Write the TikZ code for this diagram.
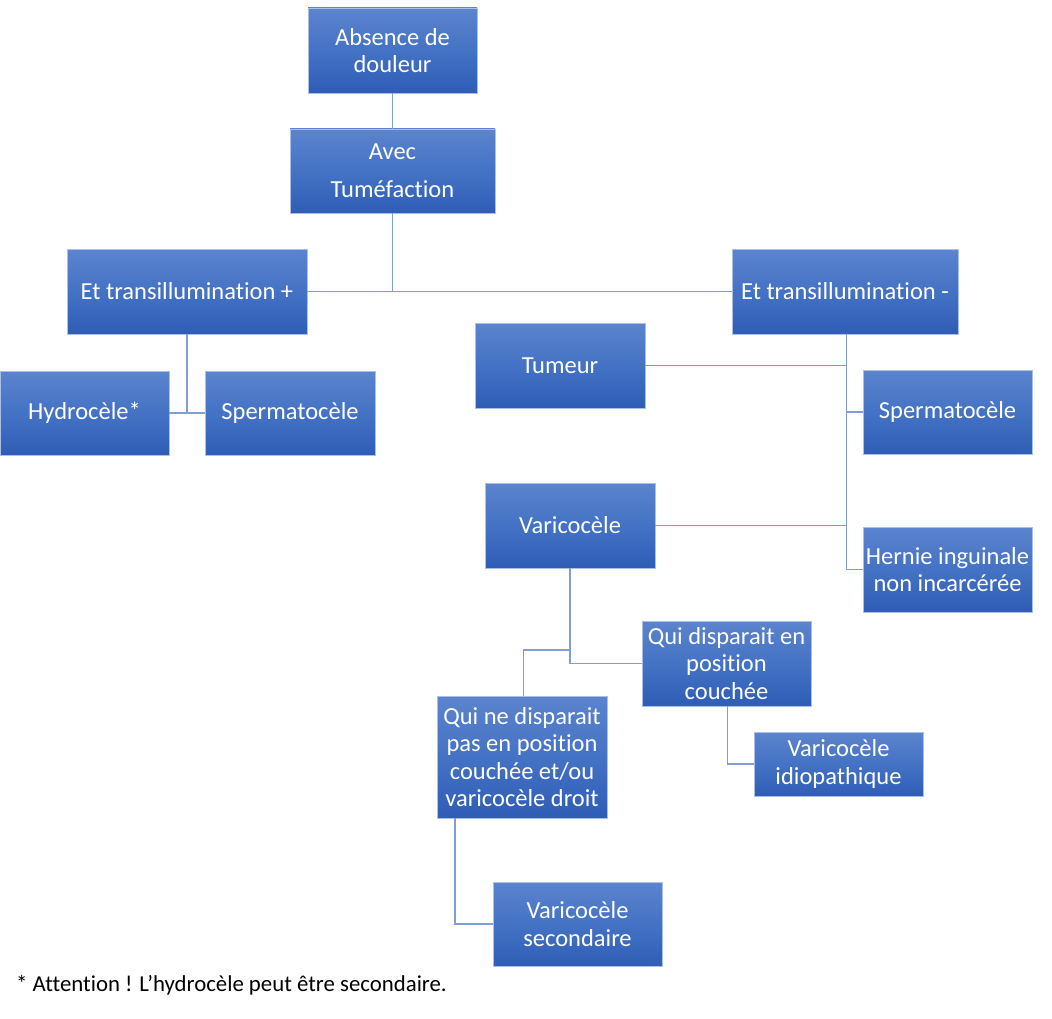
\documentclass[tikz,border=0pt]{standalone}
\usepackage{fontspec}
\setmainfont{Carlito}[Ligatures=NoCommon]
\definecolor{boxtop}{RGB}{92,132,206}
\definecolor{boxmid}{RGB}{68,114,196}
\definecolor{boxbot}{RGB}{47,93,182}
\definecolor{boxline}{RGB}{170,192,230}
\definecolor{conn}{RGB}{128,158,214}
\tikzset{
  box/.style={rectangle, inner sep=0pt, outer sep=0pt, draw=boxline, line width=0.8pt,
    top color=boxtop, bottom color=boxbot, middle color=boxmid,
    text=white, align=center, font=\fontsize{24.5}{27.3}\selectfont},
  conline/.style={draw=conn, line width=1.3pt},
}
\begin{document}
\begin{tikzpicture}[x=1pt,y=-1pt]
\useasboundingbox[fill=white] (0,0) rectangle (1052,1019);
\node[box, minimum width=169pt, minimum height=85pt] (abs) at (392.5,50.5) {Absence de\\douleur};
\node[box, minimum width=205pt, minimum height=84pt] (avec) at (392.5,171) {Avec\\[11pt]Tuméfaction};
\node[box, minimum width=240pt, minimum height=85pt] (etp) at (187,291.5) {Et transillumination +};
\node[box, minimum width=226pt, minimum height=85pt] (etm) at (845,291.5) {Et transillumination -};
\node[box, minimum width=170pt, minimum height=85pt] (tum) at (560,365.5) {Tumeur};
\node[box, minimum width=169pt, minimum height=84pt] (spr) at (947.5,412) {Spermatocèle};
\node[box, minimum width=169pt, minimum height=84pt] (hyd) at (84.5,413) {Hydrocèle*};
\node[box, minimum width=170pt, minimum height=84pt] (spl) at (290,413) {Spermatocèle};
\node[box, minimum width=170pt, minimum height=85pt] (var) at (570,525.5) {Varicocèle};
\node[box, minimum width=169pt, minimum height=85pt] (her) at (947.5,569.5) {Hernie inguinale\\non incarcérée};
\node[box, minimum width=169pt, minimum height=85pt] (qd) at (726.5,663.5) {Qui disparait en\\position\\couchée};
\node[box, minimum width=170pt, minimum height=122pt] (qn) at (522,757) {Qui ne disparait\\pas en position\\couchée et/ou\\varicocèle droit};
\node[box, minimum width=169pt, minimum height=64pt] (vi) at (838.5,764) {Varicocèle\\idiopathique};
\node[box, minimum width=169pt, minimum height=84pt] (vs) at (577.5,924) {Varicocèle\\secondaire};
\node[anchor=west, inner sep=0pt, font=\fontsize{22.8}{26}\selectfont, text=black] (note) at (16,985) {* Attention ! L’hydrocèle peut être secondaire.};
% connectors
\draw[conline] (abs.south) -- (avec.north);
\draw[conline] (etp.east) -- (etm.west);
\draw[conline] (avec.south) -- (avec.south |- etp.east);
\draw[conline] (etp.south) -- (etp.south |- hyd.east);
\draw[conline] (hyd.east) -- (spl.west);
\coordinate (trk) at ([xshift=1.5pt]etm.south);
\draw[conline] (trk) -- (trk |- her.west) -- (her.west);
\draw[conline] (tum.east) -- (tum.east -| trk);
\draw[conline] (spr.west) -- (spr.west -| trk);
\draw[conline] (var.east) -- (var.east -| trk);
\coordinate (b1) at (var.south |- qd.west);
\draw[conline] (var.south) -- (b1) -- (qd.west);
\coordinate (b2) at ([yshift=13.5pt]b1);
\draw[conline] (b1) -- (b2) -| ([xshift=1.5pt]qn.north);
\draw[conline] ([xshift=1pt]qd.south) |- (vi.west);
\draw[conline] ([xshift=18pt]qn.south west) |- (vs.west);
\end{tikzpicture}
\end{document}
